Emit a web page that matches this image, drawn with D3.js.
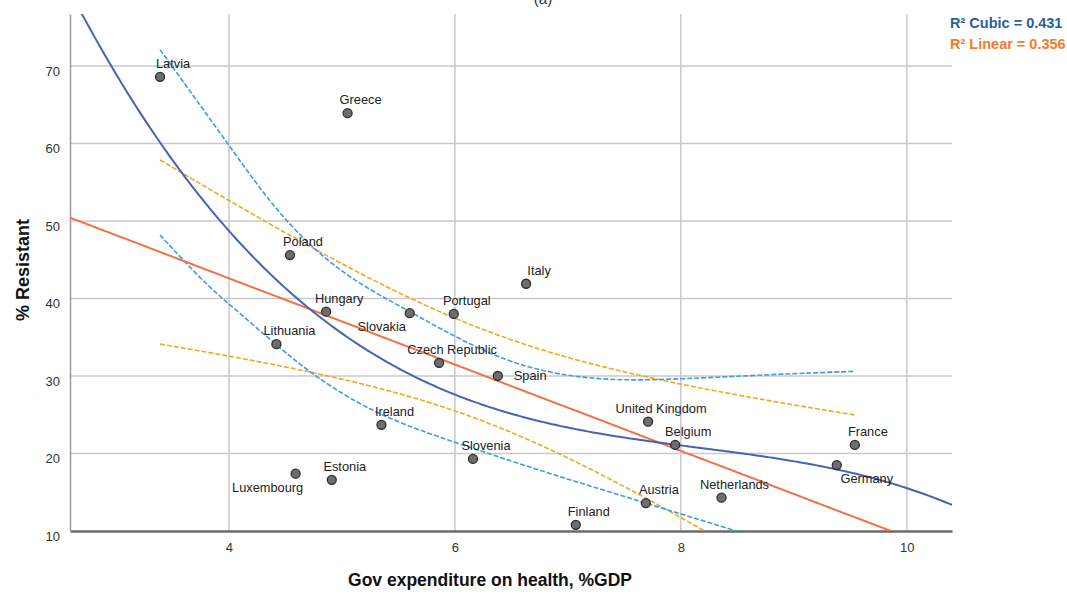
<!DOCTYPE html>
<html lang="en">
<head>
    <meta charset="utf-8">
    <title>resistance vs expenditure</title>
    <script type="text/javascript" src="https://cdnjs.cloudflare.com/ajax/libs/d3/7.8.5/d3.min.js"></script>
    <style>
      body { margin: 0; background: #fff; }
      text { font-family: Arial, "Liberation Sans", sans-serif; }
    </style>
</head>
<body>
    <script type="text/javascript">
      //data
      var countries = ["Latvia", "Greece", "Poland", "Italy", "Hungary", "Slovakia", "Portugal",
                       "Lithuania", "Czech Republic", "Spain", "United Kingdom", "Belgium", "France",
                       "Germany", "Ireland", "Slovenia", "Luxembourg", "Estonia", "Netherlands",
                       "Austria", "Finland"];
      var expenditure = [3.39, 5.05, 4.54, 6.63, 4.86, 5.60, 5.99,
                         4.42, 5.86, 6.38, 7.71, 7.95, 9.54,
                         9.38, 5.35, 6.16, 4.59, 4.91, 8.36,
                         7.69, 7.07];
      var resistant = [68.6, 63.9, 45.6, 41.9, 38.3, 38.1, 38.0,
                       34.1, 31.7, 30.0, 24.1, 21.1, 21.1,
                       18.5, 23.7, 19.3, 17.4, 16.6, 14.3,
                       13.6, 10.8];

      //cubic fit 95% band
      var cubicUpperX = [3.39, 4.0, 4.45, 5.0, 5.57, 6.0, 6.5, 7.0, 7.5, 8.0, 8.8, 9.54];
      var cubicUpperY = [72.1, 59.8, 50.5, 43.0, 38.6, 35.0, 31.6, 29.9, 29.4, 29.6, 30.2, 30.6];
      var cubicLowerX = [3.39, 3.59, 3.83, 4.0, 4.42, 4.75, 5.34, 6.2, 6.64, 7.69, 8.49, 8.6];
      var cubicLowerY = [48.2, 45.0, 41.4, 39.3, 34.0, 30.0, 24.6, 20.5, 18.3, 13.6, 10.0, 9.5];

      var xTicks = [4, 6, 8, 10];
      var yTicks = [10, 20, 30, 40, 50, 60, 70];
      var legendText = ["R² Cubic = 0.431", "R² Linear = 0.356"];

      //where each label sits relative to its point
      var labelPlace = {
        "Slovakia": "below-left", "Luxembourg": "below-left", "Germany": "below-right",
        "Spain": "right"
      };

      var W = 1067, H = 594;
      var margin = {top: 14, right: 115, bottom: 63, left: 70};

      var xScale = d3.scaleLinear().domain([2.593, 10.4]).range([margin.left, W - margin.right]);
      var yScale = d3.scaleLinear().domain([10, 76.7]).range([H - margin.bottom, margin.top]);

      var svg = d3.select("body").append("svg")
                  .attr("width", W)
                  .attr("height", H);

      svg.append("defs").append("clipPath").attr("id", "plot")
         .append("rect")
         .attr("x", margin.left).attr("y", margin.top)
         .attr("width", xScale.range()[1] - margin.left)
         .attr("height", yScale.range()[0] - margin.top);

      //title, cut off at the top as in the source
      svg.append("text").attr("x", 543).attr("y", 4).attr("text-anchor", "middle")
         .attr("font-size", 15).attr("fill", "#333").text("(a)");

      //grid
      svg.append("g").selectAll("line").data(xTicks).enter().append("line")
         .attr("x1", d => xScale(d)).attr("x2", d => xScale(d))
         .attr("y1", margin.top).attr("y2", yScale(10))
         .attr("stroke", "#c9c9c9").attr("stroke-width", 1.5);
      svg.append("g").selectAll("line").data(yTicks.slice(1)).enter().append("line")
         .attr("x1", margin.left).attr("x2", xScale.range()[1])
         .attr("y1", d => yScale(d)).attr("y2", d => yScale(d))
         .attr("stroke", "#c9c9c9").attr("stroke-width", 1.5);

      //axes
      var xAxis = d3.axisBottom(xScale).tickValues(xTicks).tickSize(0).tickPadding(12);
      var yAxis = d3.axisLeft(yScale).tickValues(yTicks).tickSize(0).tickPadding(10);
      var gx = svg.append("g").attr("transform", "translate(0," + yScale(10) + ")").call(xAxis);
      var gy = svg.append("g").attr("transform", "translate(" + margin.left + ",0)").call(yAxis);
      gx.select(".domain").attr("stroke", "#6a6a6a").attr("stroke-width", 2.5);
      gy.select(".domain").attr("stroke", "#9a9a9a").attr("stroke-width", 1.5);
      svg.selectAll(".tick text").attr("font-size", 13).attr("fill", "#333")
         .attr("font-family", "Arial, 'Liberation Sans', sans-serif");
      gy.selectAll(".tick text").attr("dy", "0.7em");

      svg.append("text").attr("x", 490).attr("y", 586).attr("text-anchor", "middle")
         .attr("font-size", 17.5).attr("font-weight", "bold").attr("fill", "#111")
         .text("Gov expenditure on health, %GDP");
      svg.append("text").attr("transform", "translate(29,270) rotate(-90)")
         .attr("text-anchor", "middle")
         .attr("font-size", 18).attr("font-weight", "bold").attr("fill", "#111")
         .text("% Resistant");

      //least squares fits (linear with 95% mean band, cubic line)
      var n = countries.length;
      function fit(deg) {
        var p = deg + 1;
        var X = expenditure.map(x => d3.range(p).map(k => Math.pow(x, k)));
        var A = d3.range(p).map(i => d3.range(p).map(j => d3.sum(X, r => r[i] * r[j])));
        var b = d3.range(p).map(i => d3.sum(X, (r, k) => r[i] * resistant[k]));
        //invert A (Gauss-Jordan)
        var M = A.map((r, i) => r.concat(d3.range(p).map(j => i === j ? 1 : 0)));
        for (var c = 0; c < p; c++) {
          var piv = c;
          for (var r = c + 1; r < p; r++) if (Math.abs(M[r][c]) > Math.abs(M[piv][c])) piv = r;
          var tmp = M[c]; M[c] = M[piv]; M[piv] = tmp;
          var v = M[c][c];
          for (var j = 0; j < 2 * p; j++) M[c][j] /= v;
          for (var r2 = 0; r2 < p; r2++) if (r2 !== c) {
            var f = M[r2][c];
            for (var j2 = 0; j2 < 2 * p; j2++) M[r2][j2] -= f * M[c][j2];
          }
        }
        var inv = M.map(r => r.slice(p));
        var coef = inv.map(r => d3.sum(r, (v, j) => v * b[j]));
        var pred = x => d3.sum(coef, (c, k) => c * Math.pow(x, k));
        var sse = d3.sum(expenditure, (x, i) => Math.pow(resistant[i] - pred(x), 2));
        var s = Math.sqrt(sse / (n - p));
        var se = function(x) {
          var v = d3.range(p).map(k => Math.pow(x, k));
          return s * Math.sqrt(d3.sum(v, (vi, i) => vi * d3.sum(v, (vj, j) => vj * inv[i][j])));
        };
        return {pred: pred, se: se, df: n - p};
      }
      var tcrit = 2.093; // df 19
      var lin = fit(1), cub = fit(3);

      var xMin = d3.min(expenditure), xMax = d3.max(expenditure);
      var fullX = d3.range(0, 301).map(i => xScale.domain()[0] + (xScale.domain()[1] - xScale.domain()[0]) * i / 300);
      var dataX = d3.range(0, 301).map(i => xMin + (xMax - xMin) * i / 300);

      var plot = svg.append("g").attr("clip-path", "url(#plot)");
      function curve(xs, fn, color, width, dash) {
        plot.append("path")
            .datum(xs)
            .attr("d", d3.line().x(d => xScale(d)).y(d => yScale(fn(d))))
            .attr("fill", "none").attr("stroke", color).attr("stroke-width", width)
            .attr("stroke-dasharray", dash);
      }
      function band(xs, ys, color) {
        plot.append("path")
            .datum(d3.zip(xs, ys))
            .attr("d", d3.line().curve(d3.curveBasis).x(d => xScale(d[0])).y(d => yScale(d[1])))
            .attr("fill", "none").attr("stroke", color).attr("stroke-width", 1.6)
            .attr("stroke-dasharray", "5,2");
      }
      curve(dataX, x => lin.pred(x) + tcrit * lin.se(x), "#f5a623", 1.6, "5,2");
      curve(dataX, x => lin.pred(x) - tcrit * lin.se(x), "#f5a623", 1.6, "5,2");
      band(cubicUpperX, cubicUpperY, "#3d9be9");
      band(cubicLowerX, cubicLowerY, "#3d9be9");
      curve(fullX, lin.pred, "#f47148", 2, null);
      curve(fullX, cub.pred, "#4863b3", 2, null);

      //points
      svg.append("g").selectAll("circle").data(countries).enter().append("circle")
         .attr("cx", (d, i) => xScale(expenditure[i]))
         .attr("cy", (d, i) => yScale(resistant[i]))
         .attr("r", 4.5)
         .attr("fill", "#6d6d6d").attr("stroke", "#2e2e2e").attr("stroke-width", 1.3);

      //labels
      svg.append("g").selectAll("text").data(countries).enter().append("text")
         .attr("x", function(d, i) {
           var px = xScale(expenditure[i]), place = labelPlace[d];
           if (place === "below-left") return px - 28;
           if (place === "below-right") return px + 30;
           if (place === "right") return px + 16;
           return px + 13;
         })
         .attr("y", function(d, i) {
           var py = yScale(resistant[i]), place = labelPlace[d];
           if (place === "below-left" || place === "below-right") return py + 18;
           if (place === "right") return py + 4;
           return py - 9;
         })
         .attr("text-anchor", d => labelPlace[d] === "right" ? "start" : "middle")
         .attr("font-size", 12.8).attr("fill", "#222")
         .text(d => d);

      //legend
      svg.append("g").selectAll("text").data(legendText).enter().append("text")
         .attr("x", 950).attr("y", (d, i) => 28 + i * 21)
         .attr("font-size", 14.5).attr("font-weight", "bold")
         .attr("font-family", "'Liberation Sans Narrow', 'Arial Narrow', Arial, sans-serif")
         .attr("fill", (d, i) => i === 0 ? "#2d5e9e" : "#f47b2a")
         .text(d => d);
    </script>
</body>
</html>
